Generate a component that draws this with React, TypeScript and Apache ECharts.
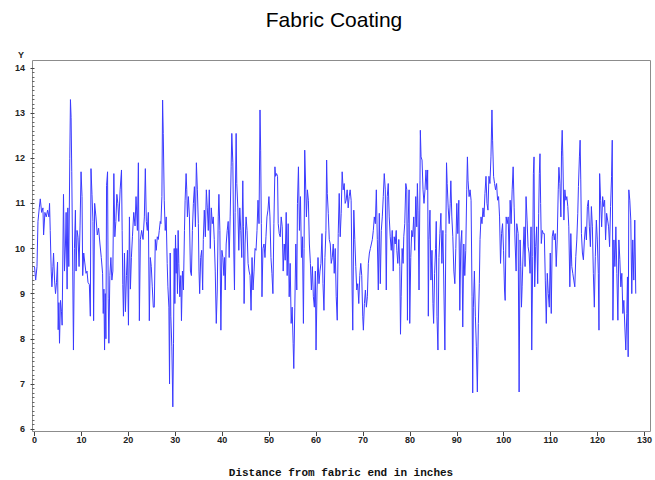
import React, { useEffect, useRef } from "react";
import * as echarts from "echarts";

const chartTitle = "Fabric Coating";
const xAxisTitle = "Distance from fabric end in inches";
const yAxisTitle = "Y";

// [distance (inches), Y] readings, split by stretch of fabric
const stretchA: [number, number][] = [[0.0,9.6],[0.25,9.3],[0.53,9.6],[0.74,10.6],[1.02,10.9],[1.23,11.1],[1.52,10.8],[1.8,10.9],[1.94,10.3],[2.22,10.8],[2.5,10.7],[2.79,10.85],[3.07,10.7],[3.21,11.0],[3.35,10.4],[3.56,9.5],[3.71,9.15],[3.92,9.6],[4.06,9.9],[4.27,9.3],[4.48,9.0],[4.69,9.25],[4.91,9.7],[5.05,8.2],[5.19,8.8],[5.33,7.9],[5.54,8.85],[5.75,8.6],[5.89,8.3],[6.18,11.2],[6.39,9.5],[6.6,10.1],[6.74,10.8],[6.95,9.1],[7.1,10.9],[7.31,9.6],[7.52,12.0],[7.66,13.3],[7.8,12.9],[7.94,11.7],[8.15,9.5],[8.3,7.75],[8.51,10.0],[8.72,10.85],[8.86,9.5],[9.07,10.4],[9.28,10.25],[9.5,9.6],[9.71,10.5],[9.92,11.7],[10.13,11.15],[10.27,9.4],[10.49,9.9],[10.7,9.7],[10.98,9.45],[11.19,9.5],[11.4,9.25],[11.69,9.2],[11.9,8.5],[12.04,11.77],[12.25,11.2],[12.46,10.6],[12.6,8.4],[12.82,11.0],[13.1,10.7],[13.38,10.3],[13.66,10.45],[13.95,10.1],[14.23,9.8],[14.51,9.45],[14.65,8.56],[14.79,9.1],[14.93,7.75],[15.08,9.0],[15.22,8.0],[15.36,11.4],[15.57,11.7],[15.71,8.9],[15.85,7.9],[16.06,9.4],[16.28,9.8],[16.49,9.3],[16.7,9.5],[16.91,11.66],[17.12,10.26],[17.34,10.6],[17.55,11.2],[17.76,11.0],[17.97,10.6],[18.25,11.3],[18.54,11.74],[18.68,10.4],[18.82,9.2],[18.96,8.5],[19.17,9.9],[19.38,8.6],[19.6,9.4],[19.81,9.96],[20.02,8.3],[20.23,10.7],[20.44,9.1],[20.65,9.8],[20.87,10.26],[21.15,10.8],[21.43,10.5],[21.64,11.15],[21.93,10.4],[22.14,11.9],[22.35,8.4],[22.56,10.2],[22.84,10.4],[23.13,10.2],[23.41,10.7],[23.62,11.77],[23.83,10.6],[24.04,10.4],[24.26,10.8],[24.47,8.4],[24.68,9.8],[24.89,9.6],[25.1,9.15],[25.32,8.7]];

const stretchB: [number, number][] = [[25.53,8.7],[25.74,10.2],[25.95,9.96],[26.17,10.26],[26.38,10.2],[26.59,10.4],[26.8,10.6],[26.94,10.55],[27.15,11.15],[27.3,13.29],[27.44,12.55],[27.65,11.07],[27.86,10.4],[28.07,10.7],[28.28,9.67],[28.43,9.15],[28.64,8.7],[28.78,7.0],[28.92,9.9],[29.06,8.5],[29.27,7.82],[29.48,6.49],[29.63,7.9],[29.77,10.0],[29.91,8.78],[30.05,10.3],[30.19,9.45],[30.33,10.0],[30.47,9.0],[30.61,10.4],[30.76,9.67],[30.97,8.93],[31.18,9.4],[31.32,8.4],[31.53,9.5],[31.74,9.08],[31.96,10.4],[32.1,11.07],[32.31,11.66],[32.45,11.3],[32.59,10.7],[32.8,11.15],[33.02,10.7],[33.23,9.5],[33.44,9.4],[33.65,10.4],[33.86,11.0],[34.08,11.37],[34.29,10.48],[34.5,11.9],[34.71,11.3],[34.92,10.55],[35.06,9.5],[35.2,9.0],[35.42,9.8],[35.63,9.96],[35.84,9.08],[35.98,10.2],[36.19,10.85],[36.41,10.26],[36.62,11.3],[36.83,10.9],[37.04,10.4],[37.25,11.3],[37.46,10.0],[37.68,10.9],[37.89,10.55],[38.1,10.7],[38.31,10.2],[38.52,9.5],[38.74,8.34],[38.95,9.08],[39.16,10.7],[39.3,11.2],[39.51,10.4],[39.72,8.19],[39.94,9.96],[40.15,9.8],[40.36,9.4],[40.5,9.8],[40.64,9.08],[40.85,10.1],[41.07,10.4],[41.28,10.6],[41.49,9.8],[41.7,10.7],[41.91,11.81],[42.05,12.55],[42.27,11.9],[42.48,9.9],[42.62,9.08],[42.76,10.8],[42.97,12.55],[43.11,11.44],[43.33,10.9],[43.54,9.96],[43.75,10.9],[43.96,10.4],[44.17,9.8],[44.39,11.5],[44.53,10.48],[44.67,8.78],[44.88,10.1],[45.09,10.7],[45.3,10.4],[45.52,9.67],[45.73,9.5],[45.94,9.4],[46.15,8.63],[46.36,9.8],[46.57,9.08],[46.79,9.5],[47.0,10.0],[47.21,9.96],[47.42,10.4],[47.63,11.07],[47.85,10.55],[48.06,13.07],[48.2,12.18],[48.34,10.55],[48.48,8.93],[48.69,10.0],[48.91,10.1],[49.12,9.8],[49.33,10.26],[49.54,10.7],[49.75,10.85],[49.96,11.15],[50.18,10.7],[50.39,9.8],[50.6,9.45],[50.81,9.0],[51.02,10.55],[51.24,11.81]];

const stretchC: [number, number][] = [[51.38,11.6],[51.59,11.66],[51.8,11.6],[51.94,10.55],[52.16,10.33],[52.37,10.26],[52.58,10.7],[52.79,10.48],[53.0,9.5],[53.22,10.1],[53.43,9.74],[53.64,10.8],[53.85,9.4],[54.06,10.55],[54.28,8.93],[54.49,9.67],[54.7,8.34],[54.91,8.7],[55.12,7.9],[55.26,7.34],[55.48,8.7],[55.69,10.1],[55.9,9.08],[56.04,11.0],[56.25,11.81],[56.46,10.4],[56.68,11.15],[56.89,9.8],[57.1,10.26],[57.31,8.34],[57.45,10.0],[57.59,12.18],[57.81,11.3],[57.95,10.7],[58.16,11.3],[58.37,11.07],[58.58,10.1],[58.8,9.67],[59.01,9.08],[59.22,9.6],[59.43,8.93],[59.64,8.7],[59.85,9.5],[60.0,7.75],[60.21,9.08],[60.42,9.8],[60.63,9.22],[60.84,9.5],[61.05,9.67],[61.27,10.33],[61.48,9.22],[61.69,8.63],[61.9,9.8],[62.11,10.4],[62.26,11.96],[62.4,11.22],[62.61,10.78],[62.82,10.2],[63.03,10.1],[63.24,9.67],[63.46,9.8],[63.67,10.1],[63.88,9.45],[64.09,10.0],[64.3,8.93],[64.52,8.41],[64.73,10.33],[64.94,11.22],[65.15,10.26],[65.36,10.78],[65.57,11.7],[65.79,11.3],[66.0,11.44],[66.21,11.0],[66.42,11.07],[66.63,11.3],[66.85,10.9],[67.06,11.15],[67.27,11.3],[67.48,11.07],[67.69,9.08],[67.83,8.19],[68.05,10.85],[68.26,10.2],[68.47,9.6],[68.68,9.08],[68.89,9.22],[69.11,8.78],[69.32,9.4],[69.53,9.67],[69.74,9.4],[69.95,8.5],[70.09,8.19],[70.31,8.78],[70.52,9.08],[70.73,8.7],[70.94,8.93],[71.15,9.67],[71.37,9.9],[71.58,10.0],[71.79,10.1],[72.0,10.2],[72.21,10.4],[72.42,10.7],[72.64,10.55],[72.85,11.3],[73.06,10.2],[73.27,9.08],[73.48,10.78],[73.7,9.22],[73.91,10.4],[74.12,10.7],[74.33,11.15],[74.54,11.66],[74.76,11.3],[74.97,9.08],[75.18,11.15],[75.39,11.44],[75.6,10.7],[75.81,10.26],[76.03,9.96],[76.24,10.4],[76.45,9.5],[76.66,10.26],[76.87,10.1],[77.09,10.4]];

const stretchD: [number, number][] = [[77.22,9.96],[77.43,9.67],[77.64,10.2],[77.86,9.6],[78.0,8.1],[78.14,8.93],[78.35,10.0],[78.56,9.67],[78.7,10.26],[78.91,10.55],[79.13,11.44],[79.34,11.3],[79.48,8.41],[79.62,10.55],[79.83,11.3],[79.97,8.34],[80.19,9.8],[80.4,10.4],[80.61,10.26],[80.82,10.7],[81.03,9.96],[81.25,11.15],[81.46,10.48],[81.6,11.44],[81.74,10.85],[81.95,9.08],[82.16,11.5],[82.23,12.62],[82.38,12.03],[82.59,11.96],[82.8,11.3],[83.01,11.0],[83.22,11.3],[83.43,11.74],[83.65,11.3],[83.79,11.74],[83.93,8.5],[84.07,10.2],[84.28,10.85],[84.49,9.3],[84.71,9.96],[84.92,8.78],[85.06,8.34],[85.27,9.45],[85.48,10.0],[85.62,10.6],[85.77,8.5],[85.98,7.75],[86.19,9.8],[86.4,10.33],[86.61,10.78],[86.82,9.67],[87.04,10.4],[87.25,9.08],[87.46,7.75],[87.67,10.33],[87.81,11.9],[87.95,11.44],[88.17,10.9],[88.38,10.55],[88.59,11.0],[88.73,11.5],[88.94,10.7],[89.15,10.26],[89.37,9.5],[89.58,9.22],[89.79,10.0],[90.0,11.0],[90.21,10.33],[90.43,11.07],[90.64,8.63],[90.85,10.1],[91.06,10.4],[91.27,8.26],[91.49,10.1],[91.7,9.4],[91.91,9.96],[92.12,11.3],[92.26,12.03],[92.4,11.5],[92.62,11.15],[92.83,11.3],[93.04,11.07],[93.25,8.93],[93.39,6.8],[93.53,8.7],[93.75,9.5],[93.96,8.5],[94.17,7.82],[94.38,6.82],[94.59,8.34],[94.8,9.22],[94.95,10.2],[95.16,10.7],[95.37,10.55],[95.58,10.9],[95.79,10.7],[96.0,11.22],[96.22,11.6],[96.43,11.0],[96.64,10.85],[96.85,11.6],[97.06,11.44],[97.28,12.03],[97.49,13.07],[97.63,12.4],[97.84,11.6],[98.05,11.44],[98.26,11.3],[98.48,11.44],[98.69,11.07],[98.9,11.15],[99.11,10.7],[99.32,9.67],[99.54,10.33],[99.75,10.55],[99.96,9.96],[100.17,9.08],[100.31,8.85],[100.52,10.7],[100.74,10.55],[100.95,10.7],[101.16,9.8],[101.37,11.07],[101.58,10.55],[101.8,11.3],[102.01,11.81],[102.22,10.9],[102.43,10.1],[102.64,9.5],[102.78,10.55]];

const stretchE: [number, number][] = [[103.07,10.33],[103.28,6.82],[103.49,10.19],[103.64,9.6],[103.78,8.7],[103.92,9.15],[104.13,9.9],[104.34,10.48],[104.55,9.6],[104.76,11.15],[104.98,10.63],[105.19,10.04],[105.4,9.9],[105.61,9.45],[105.82,10.48],[105.97,7.75],[106.18,9.82],[106.32,11.66],[106.46,12.03],[106.6,9.15],[106.81,10.04],[107.02,10.48],[107.24,9.22],[107.45,10.78],[107.59,11.66],[107.73,12.1],[107.87,11.0],[108.01,10.11],[108.22,10.4],[108.44,10.33],[108.65,10.33],[108.86,9.3],[109.07,8.34],[109.28,9.45],[109.5,9.0],[109.71,8.7],[109.92,9.9],[110.13,8.56],[110.34,10.26],[110.56,10.4],[110.77,10.19],[110.98,10.33],[111.19,9.6],[111.4,10.19],[111.62,11.3],[111.76,11.8],[111.97,11.44],[112.18,10.7],[112.32,12.18],[112.46,12.62],[112.6,12.03],[112.82,10.63],[113.03,11.3],[113.24,11.07],[113.45,11.15],[113.66,10.93],[113.87,10.48],[114.09,9.15],[114.3,10.33],[114.51,9.6],[114.72,9.45],[114.93,9.3],[115.15,9.15],[115.36,9.82],[115.57,10.19],[115.78,10.78],[115.92,11.37],[116.13,12.03],[116.28,12.4],[116.42,11.52],[116.56,10.33],[116.77,9.9],[116.98,9.75],[117.19,10.19],[117.41,10.48],[117.62,10.19],[117.83,10.93],[118.04,11.07],[118.25,10.48],[118.47,10.04],[118.68,10.93],[118.89,10.48],[119.1,9.45],[119.31,8.7],[119.52,9.82],[119.74,10.63],[119.95,10.19],[120.16,9.45],[120.3,8.19],[120.44,11.66],[120.65,11.07],[120.87,10.48],[121.08,11.15],[121.29,10.93],[121.5,11.07],[121.71,10.19],[121.93,10.78],[122.14,10.63],[122.35,10.48],[122.56,10.04],[122.77,10.93],[122.98,11.59],[123.13,12.4],[123.27,8.41],[123.48,10.19],[123.69,9.6],[123.9,10.48],[124.11,9.45],[124.33,8.41],[124.54,10.19],[124.75,9.75],[124.96,9.15],[125.17,9.45],[125.39,8.56],[125.6,8.85],[125.81,8.26],[126.02,7.75],[126.23,8.56],[126.37,9.37],[126.52,7.6],[126.66,11.3],[126.87,11.07],[127.08,10.63],[127.29,9.0],[127.5,10.19],[127.72,9.3],[127.93,10.63],[128.14,9.0]];

const xMin = 0;
const xMax = 130;
const xStep = 10;
const yMin = 6;
const yMax = 14;
const yStep = 1;

export default function App() {
  const ref = useRef<HTMLDivElement>(null);

  useEffect(() => {
    if (!ref.current) return;
    const chart = echarts.init(ref.current, null, { renderer: "svg" });
    const data = [...stretchA, ...stretchB, ...stretchC, ...stretchD, ...stretchE];
    const tickFont = {
      fontFamily: "Liberation Sans",
      fontWeight: "bold" as const,
      fontSize: 9,
      color: "#222",
    };
    chart.setOption({
      animation: false,
      backgroundColor: "#fff",
      grid: { left: 34.5, right: 7, top: 68, bottom: 51, containLabel: false },
      xAxis: {
        type: "value",
        min: xMin,
        max: xMax,
        interval: xStep,
        offset: 3,
        axisLine: { show: false },
        axisTick: { show: true, length: 4, lineStyle: { color: "#444" } },
        axisLabel: { ...tickFont, margin: 3 },
        splitLine: { show: false },
      },
      yAxis: {
        type: "value",
        min: yMin,
        max: yMax,
        interval: yStep,
        offset: 2.5,
        axisLine: { show: false },
        axisTick: { show: true, length: 4, lineStyle: { color: "#444" } },
        minorTick: { show: true, splitNumber: 10, length: 2.5, lineStyle: { color: "#666" } },
        axisLabel: { ...tickFont, margin: 7 },
        splitLine: { show: false },
      },
      graphic: [
        {
          type: "rect",
          shape: { x: 32.5, y: 60.5, width: 618, height: 371 },
          style: { fill: "none", stroke: "#8c8c8c", lineWidth: 1 },
          silent: true,
        },
        {
          type: "text",
          x: 334,
          y: 19,
          style: {
            text: chartTitle,
            fontFamily: "Liberation Sans",
            fontSize: 21,
            fill: "#000",
            textAlign: "center",
            textVerticalAlign: "middle",
          },
        },
        {
          type: "text",
          x: 21,
          y: 55,
          style: {
            text: yAxisTitle,
            fontFamily: "Liberation Sans",
            fontWeight: "bold",
            fontSize: 9,
            fill: "#222",
            textAlign: "center",
            textVerticalAlign: "middle",
          },
        },
        {
          type: "text",
          x: 341,
          y: 473,
          style: {
            text: xAxisTitle,
            fontFamily: "Liberation Mono",
            fontWeight: "bold",
            fontSize: 11,
            fill: "#111",
            textAlign: "center",
            textVerticalAlign: "middle",
          },
        },
      ],
      series: [
        {
          type: "line",
          data,
          showSymbol: false,
          symbol: "none",
          lineStyle: { color: "#3a3aff", width: 1 },
          itemStyle: { color: "#3a3aff" },
        },
      ],
    });
    return () => chart.dispose();
  }, []);

  return (
    <div
      ref={ref}
      style={{ position: "absolute", left: 0, top: 0, width: 655, height: 480 }}
    />
  );
}
